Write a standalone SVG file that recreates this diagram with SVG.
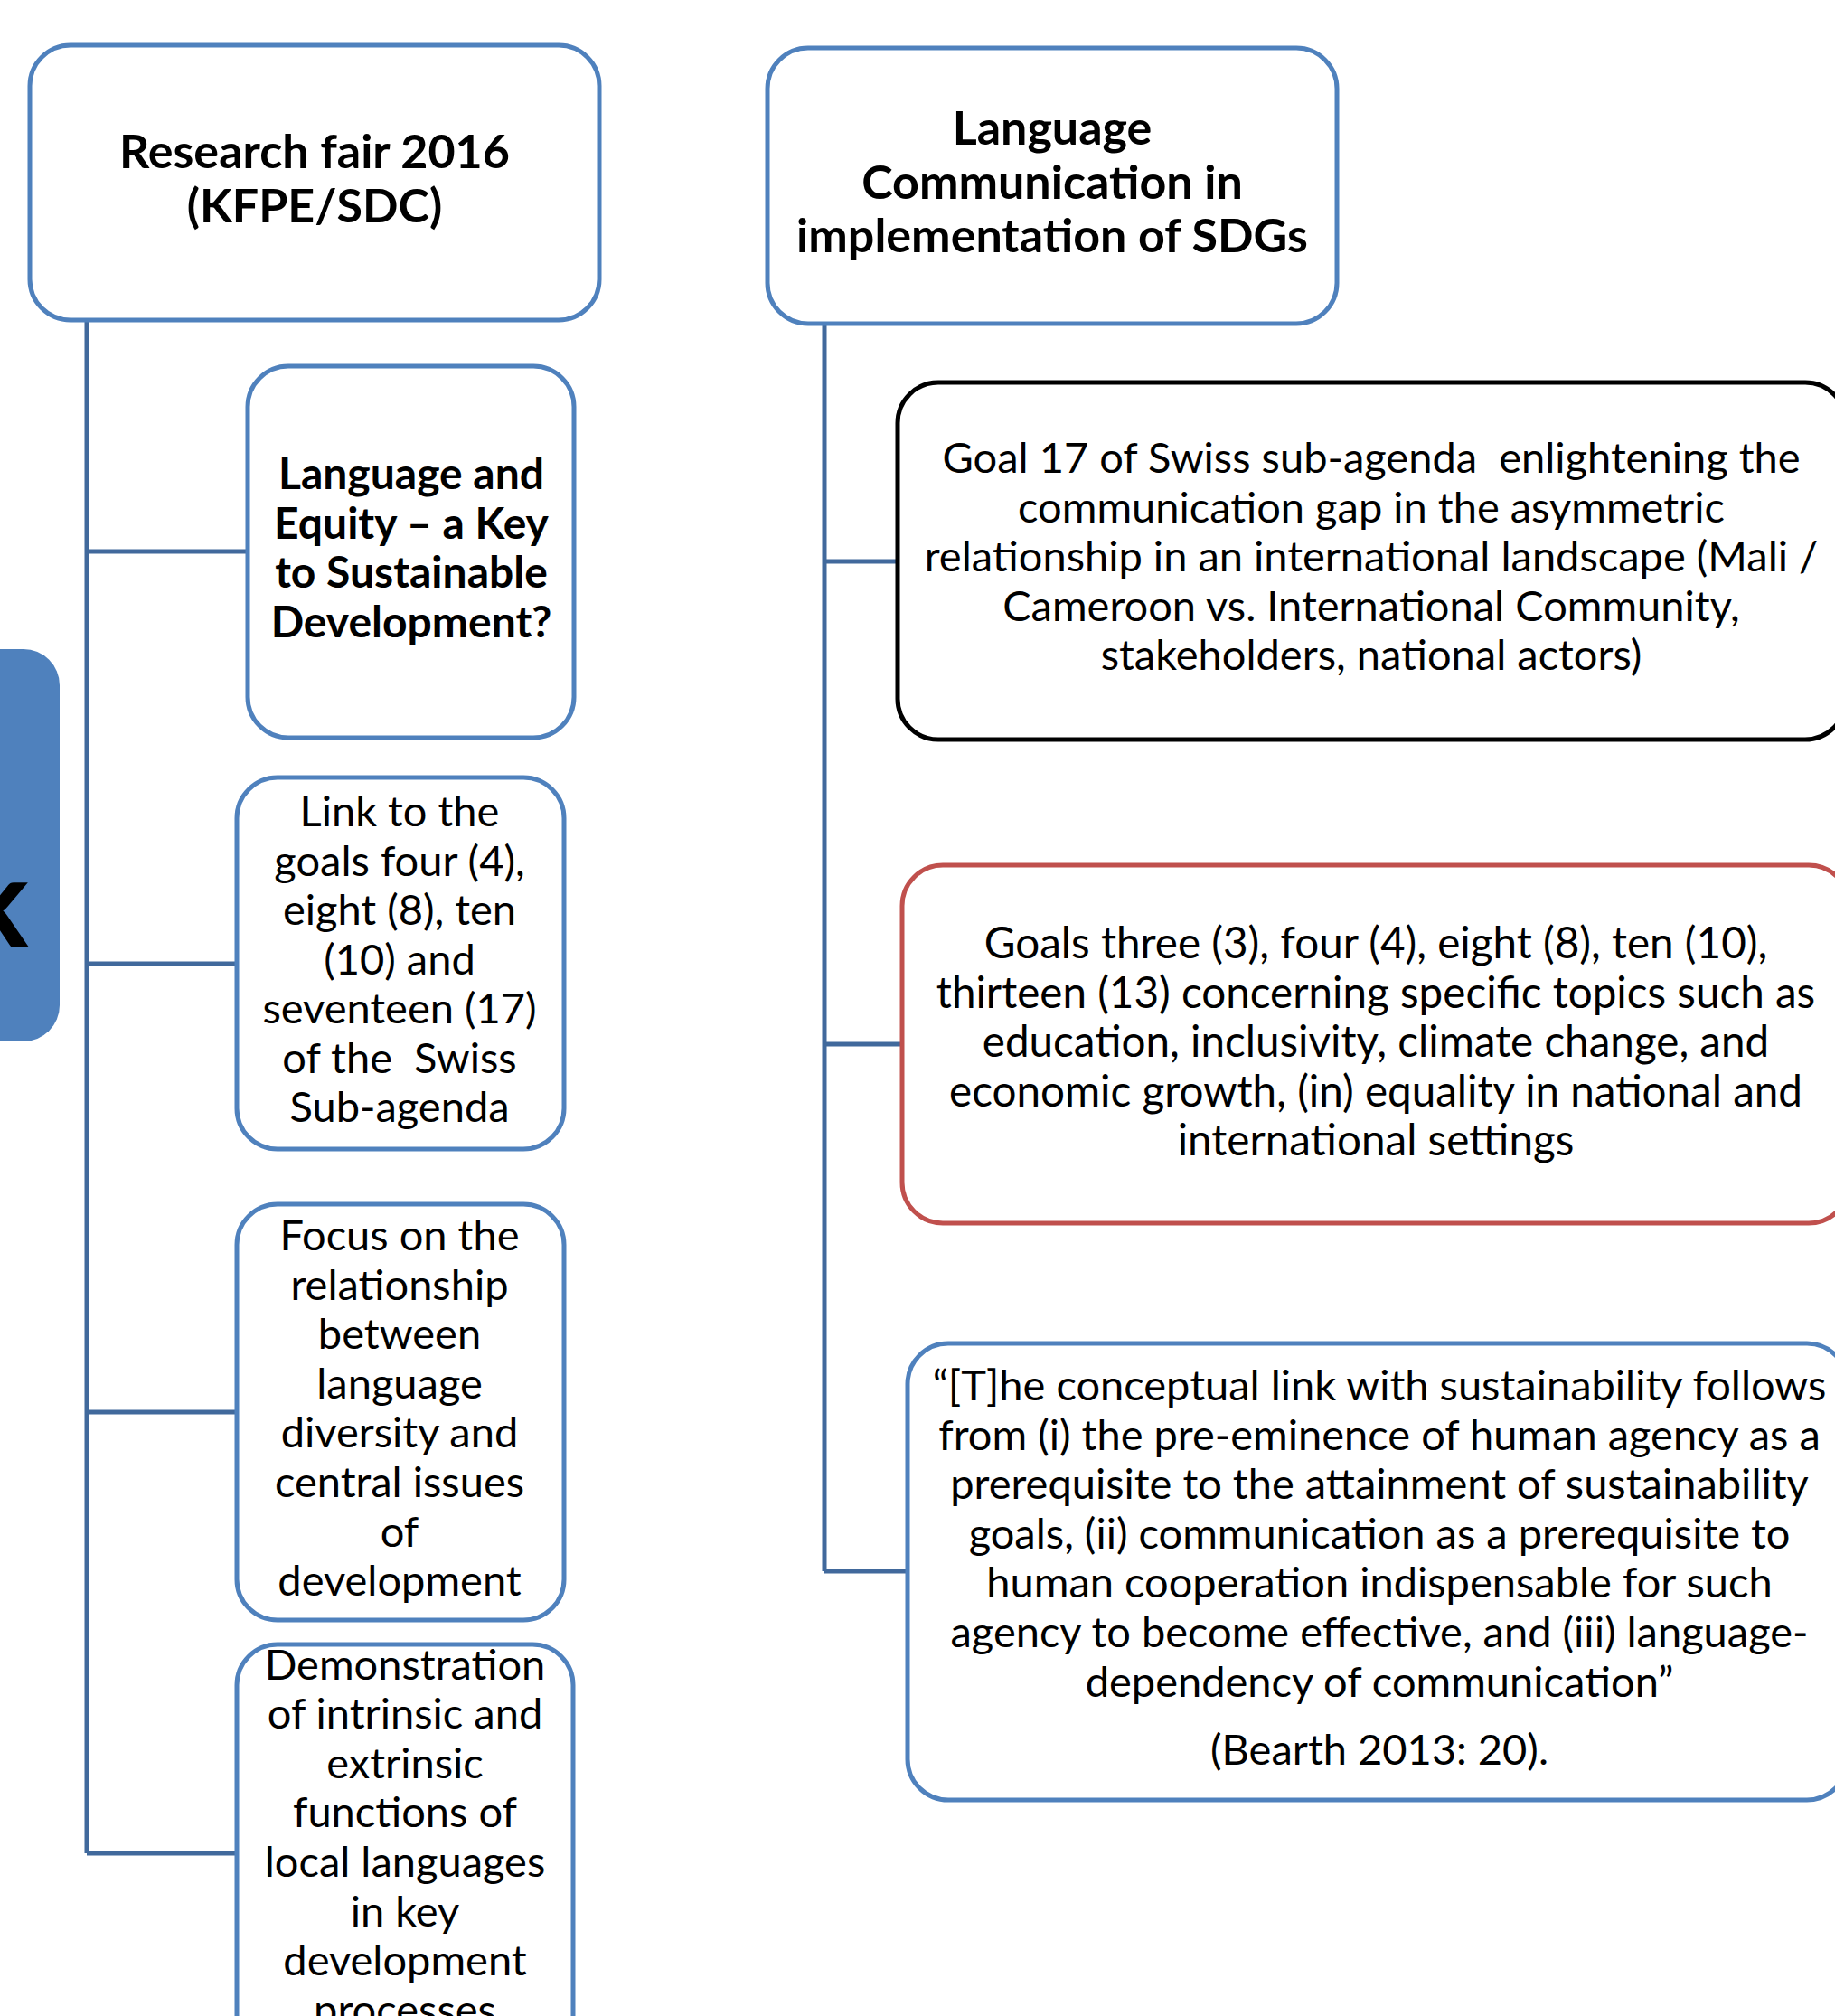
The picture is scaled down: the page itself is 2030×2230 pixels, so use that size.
<svg xmlns="http://www.w3.org/2000/svg" width="2030" height="2230" viewBox="0 0 2030 2230">
<style>
.box{fill:#fff;stroke:#4F81BD;stroke-width:5}
.blk{fill:#fff;stroke:#000;stroke-width:5}
.red{fill:#fff;stroke:#C0504D;stroke-width:5}
.con{fill:none;stroke:#41699C;stroke-width:5}
text{font-family:Lato,"Open Sans","Liberation Sans",sans-serif;fill:#000;text-anchor:middle;white-space:pre}
.b{font-weight:bold}
.t{font-size:52px}
.h{font-size:48px}
.r{font-size:47px}
.rr{font-size:47.6px}
</style>
<rect width="2030" height="2230" fill="#fff"/>
<g id="connectors">
<path class="con" d="M96 355V2050M96 610H274M96 1066H261M96 1562H261M96 2050H261"/>
<path class="con" d="M912 358V1738M912 621H993M912 1155H998M912 1738H1004"/>
</g>
<g id="side-panel">
<rect x="-120" y="718" width="186" height="434" rx="40" fill="#4F81BD"/>
<text class="b" x="32" y="1048" style="font-size:140px;text-anchor:end">k</text>
</g>
<g id="n1">
<rect class="box" x="33" y="50" width="630" height="304" rx="45"/>
<text class="b t" x="348"><tspan x="348" y="186">Research fair 2016</tspan><tspan x="348" y="246">(KFPE/SDC)</tspan></text>
</g>
<g id="n2">
<rect class="box" x="849" y="53" width="630" height="305" rx="45"/>
<text class="b t"><tspan x="1164" y="160">Language</tspan><tspan x="1164" y="219.5">Communication in</tspan><tspan x="1164" y="279">implementation of SDGs</tspan></text>
</g>
<g id="n3">
<rect class="box" x="274" y="405" width="361" height="411" rx="45"/>
<text class="b h"><tspan x="455" y="541">Language and</tspan><tspan x="455" y="595.5">Equity – a Key</tspan><tspan x="455" y="650">to Sustainable</tspan><tspan x="455" y="704.5">Development?</tspan></text>
</g>
<g id="n4">
<rect class="box" x="262" y="860" width="362" height="411" rx="45"/>
<text class="r"><tspan x="442" y="914">Link to the</tspan><tspan x="442" y="968.5">goals four (4),</tspan><tspan x="442" y="1023">eight (8), ten</tspan><tspan x="442" y="1077.5">(10) and</tspan><tspan x="442" y="1132">seventeen (17)</tspan><tspan x="442" y="1186.5">of the  Swiss</tspan><tspan x="442" y="1241">Sub-agenda</tspan></text>
</g>
<g id="n5">
<rect class="box" x="262" y="1332" width="362" height="460" rx="45"/>
<text class="r"><tspan x="442" y="1383">Focus on the</tspan><tspan x="442" y="1437.6">relationship</tspan><tspan x="442" y="1492.2">between</tspan><tspan x="442" y="1546.8">language</tspan><tspan x="442" y="1601.4">diversity and</tspan><tspan x="442" y="1656">central issues</tspan><tspan x="442" y="1710.6">of</tspan><tspan x="442" y="1765.2">development</tspan></text>
</g>
<g id="n6">
<rect class="box" x="262" y="1819" width="372" height="500" rx="45"/>
<text class="r"><tspan x="448" y="1857.5">Demonstration</tspan><tspan x="448" y="1912">of intrinsic and</tspan><tspan x="448" y="1966.7">extrinsic</tspan><tspan x="448" y="2021.3">functions of</tspan><tspan x="448" y="2075.9">local languages</tspan><tspan x="448" y="2130.5">in key</tspan><tspan x="448" y="2185.1">development</tspan><tspan x="448" y="2239.7">processes</tspan></text>
</g>
<g id="n7">
<rect class="blk" x="993" y="423" width="1049" height="395" rx="45"/>
<text class="r"><tspan x="1517" y="523">Goal 17 of Swiss sub-agenda  enlightening the</tspan><tspan x="1517" y="577.6">communication gap in the asymmetric</tspan><tspan x="1517" y="632.2">relationship in an international landscape (Mali /</tspan><tspan x="1517" y="686.8">Cameroon vs. International Community,</tspan><tspan x="1517" y="741.4">stakeholders, national actors)</tspan></text>
</g>
<g id="n8">
<rect class="red" x="998" y="957" width="1048" height="396" rx="45"/>
<text class="rr"><tspan x="1522" y="1060">Goals three (3), four (4), eight (8), ten (10),</tspan><tspan x="1522" y="1114.6">thirteen (13) concerning specific topics such as</tspan><tspan x="1522" y="1169.2">education, inclusivity, climate change, and</tspan><tspan x="1522" y="1223.8">economic growth, (in) equality in national and</tspan><tspan x="1522" y="1278.4">international settings</tspan></text>
</g>
<g id="n9">
<rect class="box" x="1004" y="1486" width="1040" height="505" rx="45"/>
<text class="r"><tspan x="1526" y="1549">“[T]he conceptual link with sustainability follows</tspan><tspan x="1526" y="1603.6">from (i) the pre-eminence of human agency as a</tspan><tspan x="1526" y="1658.2">prerequisite to the attainment of sustainability</tspan><tspan x="1526" y="1712.8">goals, (ii) communication as a prerequisite to</tspan><tspan x="1526" y="1767.4">human cooperation indispensable for such</tspan><tspan x="1526" y="1822">agency to become effective, and (iii) language-</tspan><tspan x="1526" y="1876.6">dependency of communication”</tspan><tspan x="1526" y="1952">(Bearth 2013: 20).</tspan></text>
</g>
</svg>
